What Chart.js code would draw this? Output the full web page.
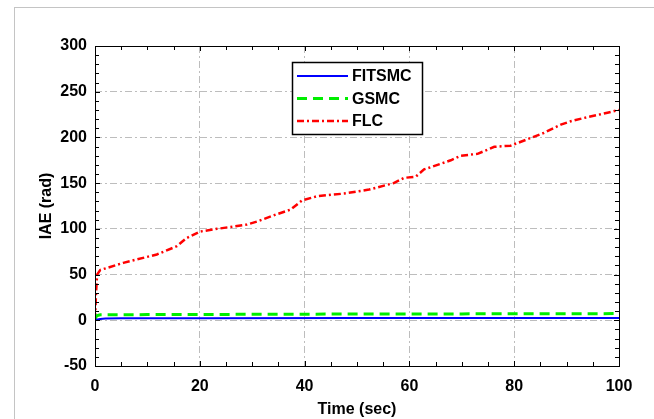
<!DOCTYPE html>
<html>
<head>
<meta charset="utf-8">
<script src="https://cdn.jsdelivr.net/npm/chart.js@4/dist/chart.umd.min.js"></script>
<style>
  body { margin: 0; background: #fff; }
  #wrap { position: relative; width: 654px; height: 419px; }
  #frame { position: absolute; left: 14px; top: 7px; width: 660px; height: 440px;
           border-top: 1px solid #c4c4c4; border-left: 1px solid #c4c4c4; }
  canvas { position: absolute; left: 0; top: 0; }
</style>
</head>
<body>
<div id="wrap">
  <div id="frame"></div>
  <canvas id="chart" width="654" height="419"></canvas>
</div>
<script>
// series data (time in sec, IAE in rad)
const fitsmcTime = [0, 0.5, 1, 2, 5, 20, 50, 100];
const fitsmcIae  = [0, 0.8, 1.5, 2.0, 2.2, 2.3, 2.4, 2.5];

const gsmcTime = [0, 0.3, 1, 10, 40, 70, 100];
const gsmcIae  = [0, 5, 6, 6.2, 6.7, 7.0, 7.3];

const flcTime = [0, 0.2, 0.4, 1, 5.4, 11.8, 15.6, 17.5, 20, 23.3, 29, 30.9, 34.7, 37.3, 39.5, 42.4,
                 47.5, 52.3, 57, 59, 61.2, 62.8, 67.9, 69.8, 73, 76.2, 79.3, 83.2, 85.7, 88.9, 90.8, 93.4, 97.8, 100];
const flcIae  = [0, 30, 50, 55, 62.8, 72, 81, 90, 97, 100, 104.7, 108, 116, 121, 131, 135.7,
                 138.6, 143, 150, 155.8, 157, 165, 175, 180, 182, 189.7, 191, 199.5, 205, 214, 217.7, 221.4, 227, 230];

const seriesNames = ['FITSMC', 'GSMC', 'FLC'];
const xTicks = [0, 20, 40, 60, 80, 100];
const yTicks = [-50, 0, 50, 100, 150, 200, 250, 300];

const toPoints = (xs, ys) => xs.map((x, i) => ({ x, y: ys[i] }));

const FONT = { family: 'Liberation Sans, Arial, sans-serif', size: 16, weight: 'bold' };

// frame, inward ticks and legend box
const framePlugin = {
  id: 'frame',
  afterDraw(chart) {
    const { ctx, chartArea: a, scales: { x, y } } = chart;
    ctx.save();
    ctx.strokeStyle = '#000';
    ctx.lineWidth = 1;
    ctx.setLineDash([]);
    ctx.strokeRect(a.left + 0.5, a.top + 0.5, a.right - a.left, a.bottom - a.top);

    ctx.beginPath();
    for (let v = 0; v <= 100; v += 5) {
      const px = Math.round(x.getPixelForValue(v)) + 0.5;
      const len = v % 20 === 0 ? 5 : 4;
      ctx.moveTo(px, a.bottom); ctx.lineTo(px, a.bottom - len);
      ctx.moveTo(px, a.top); ctx.lineTo(px, a.top + len);
    }
    for (let v = -50; v <= 300; v += 10) {
      const py = Math.round(y.getPixelForValue(v)) + 0.5;
      const len = v % 50 === 0 ? 5 : 4;
      ctx.moveTo(a.left, py); ctx.lineTo(a.left + len, py);
      ctx.moveTo(a.right, py); ctx.lineTo(a.right - len, py);
    }
    ctx.stroke();

    // legend
    const bx = 292, by = 62, bw = 130, bh = 72;
    ctx.fillStyle = '#fff';
    ctx.fillRect(bx, by, bw, bh);
    ctx.lineWidth = 1.5;
    ctx.strokeRect(bx + 0.5, by + 0.5, bw, bh);
    ctx.font = 'bold 16px Liberation Sans, Arial, sans-serif';
    ctx.textBaseline = 'middle';
    chart.data.datasets.forEach((ds, i) => {
      const ly = by + 14 + i * 22.5;
      ctx.strokeStyle = ds.borderColor;
      ctx.lineWidth = ds.borderWidth;
      ctx.setLineDash(ds.borderDash || []);
      ctx.beginPath();
      ctx.moveTo(bx + 5, ly);
      ctx.lineTo(bx + 56, ly);
      ctx.stroke();
      ctx.setLineDash([]);
      ctx.fillStyle = '#000';
      ctx.fillText(ds.label, bx + 60, ly + 1);
    });
    ctx.restore();
  }
};

new Chart(document.getElementById('chart'), {
  type: 'line',
  data: {
    datasets: [
      { label: seriesNames[0], data: toPoints(fitsmcTime, fitsmcIae), borderColor: '#0000ff', borderWidth: 2 },
      { label: seriesNames[1], data: toPoints(gsmcTime, gsmcIae), borderColor: '#00ee00', borderWidth: 3, borderDash: [10, 6] },
      { label: seriesNames[2], data: toPoints(flcTime, flcIae), borderColor: '#ff0000', borderWidth: 2.5, borderDash: [7, 3, 2, 3] }
    ]
  },
  options: {
    responsive: false,
    animation: false,
    elements: { point: { radius: 0 }, line: { tension: 0 } },
    layout: { padding: { top: 46, right: 35, left: 0, bottom: 0 } },
    plugins: { legend: { display: false }, tooltip: { enabled: false } },
    scales: {
      x: {
        type: 'linear', min: 0, max: 100,
        afterBuildTicks: s => { s.ticks = xTicks.map(v => ({ value: v })); },
        afterFit: s => { s.height = 53; },
        grid: { color: '#bdbdbd', drawTicks: false, lineWidth: 1 },
        border: { display: false, dash: [7, 3, 2, 3] },
        ticks: { color: '#000', font: FONT, padding: 11, maxRotation: 0 },
        title: { display: true, text: 'Time (sec)', color: '#000', font: FONT, padding: 0 }
      },
      y: {
        min: -50, max: 300,
        afterBuildTicks: s => { s.ticks = yTicks.map(v => ({ value: v })); },
        afterFit: s => { s.width = 95; },
        grid: { color: '#bdbdbd', drawTicks: false, lineWidth: 1 },
        border: { display: false, dash: [7, 3, 2, 3] },
        ticks: { color: '#000', font: FONT, padding: 8 },
        title: { display: true, text: 'IAE (rad)', color: '#000', font: FONT, padding: { top: 37, bottom: 0 } }
      }
    }
  },
  plugins: [framePlugin]
});
</script>
</body>
</html>
